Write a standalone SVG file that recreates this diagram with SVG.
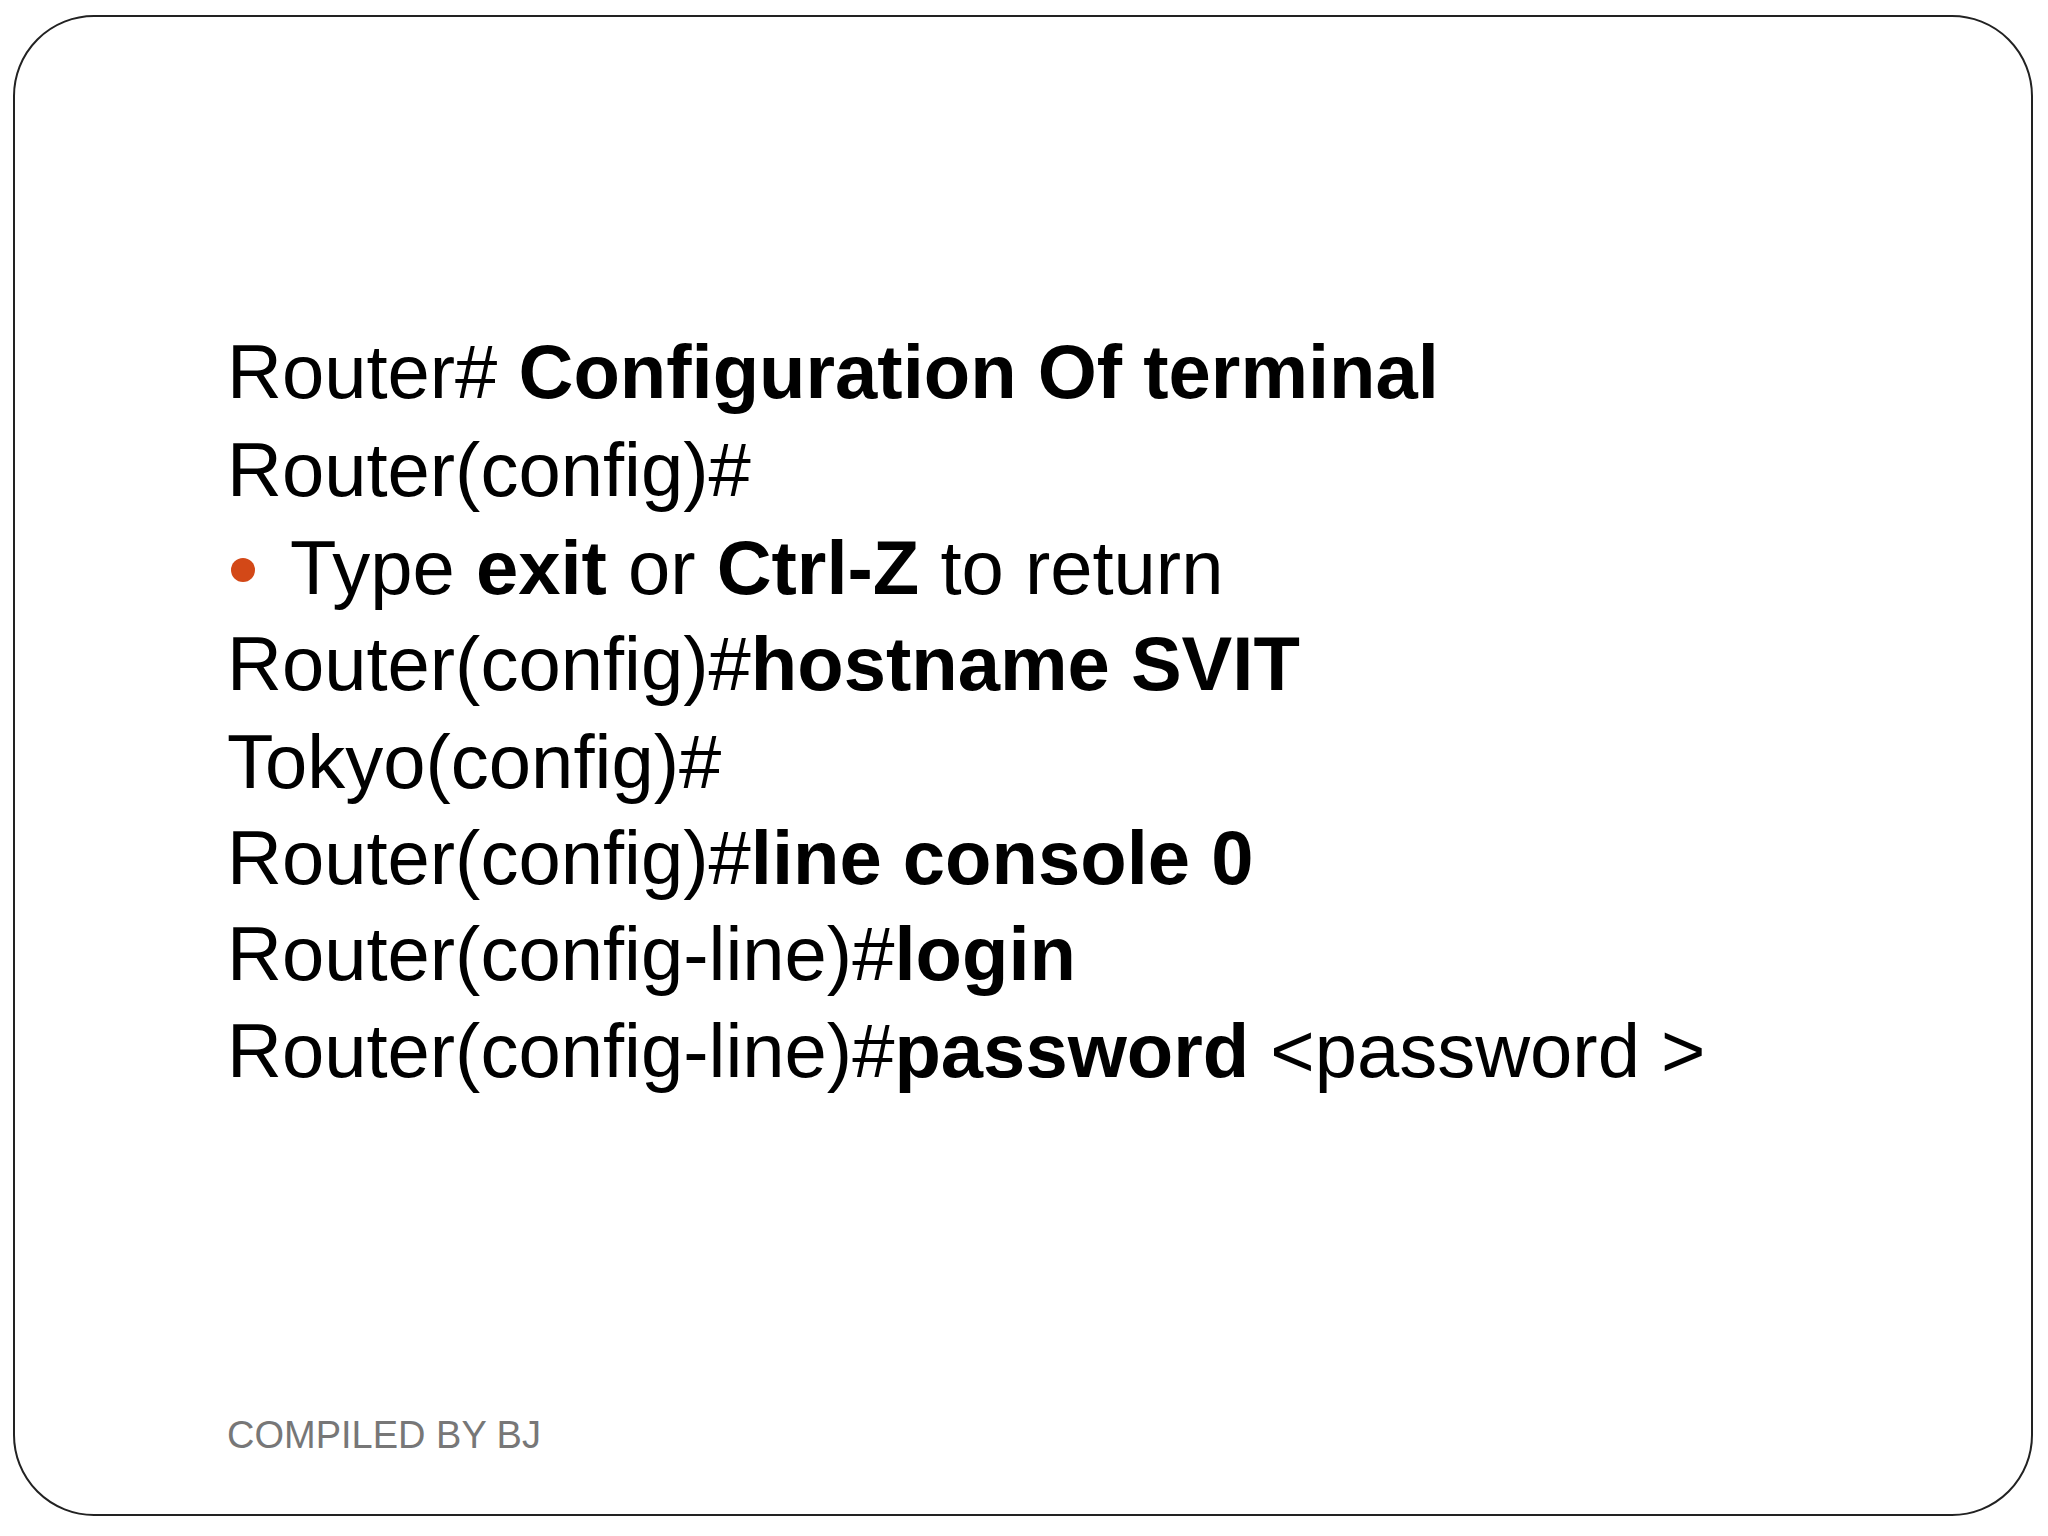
<svg xmlns="http://www.w3.org/2000/svg" width="2048" height="1536" viewBox="0 0 2048 1536">
<style>
.t{font-family:"Liberation Sans",Arial,sans-serif;font-size:76px;fill:#000}
.b{font-weight:bold}
</style>
<rect width="2048" height="1536" fill="#fff"/>
<rect x="14" y="16" width="2018" height="1499" rx="80" fill="#fff" stroke="#222" stroke-width="2"/>
<g id="content">
<text class="t" x="227" y="398">Router# <tspan class="b">Configuration Of terminal</tspan></text>
<text class="t" x="227" y="496">Router(config)#</text>
<circle cx="243" cy="570" r="12" fill="#d34817"/>
<text class="t" x="290" y="594">Type <tspan class="b">exit</tspan> or <tspan class="b">Ctrl-Z</tspan> to return</text>
<text class="t" x="227" y="690">Router(config)#<tspan class="b">hostname SVIT</tspan></text>
<text class="t" x="227" y="788">Tokyo(config)#</text>
<text class="t" x="227" y="884">Router(config)#<tspan class="b">line console 0</tspan></text>
<text class="t" x="227" y="980">Router(config-line)#<tspan class="b">login</tspan></text>
<text class="t" x="227" y="1077">Router(config-line)#<tspan class="b">password</tspan> &lt;password &gt;</text>
</g>
<text x="227" y="1448" font-family="Liberation Sans,Arial,sans-serif" font-size="38" fill="#777">COMPILED BY BJ</text>
</svg>
